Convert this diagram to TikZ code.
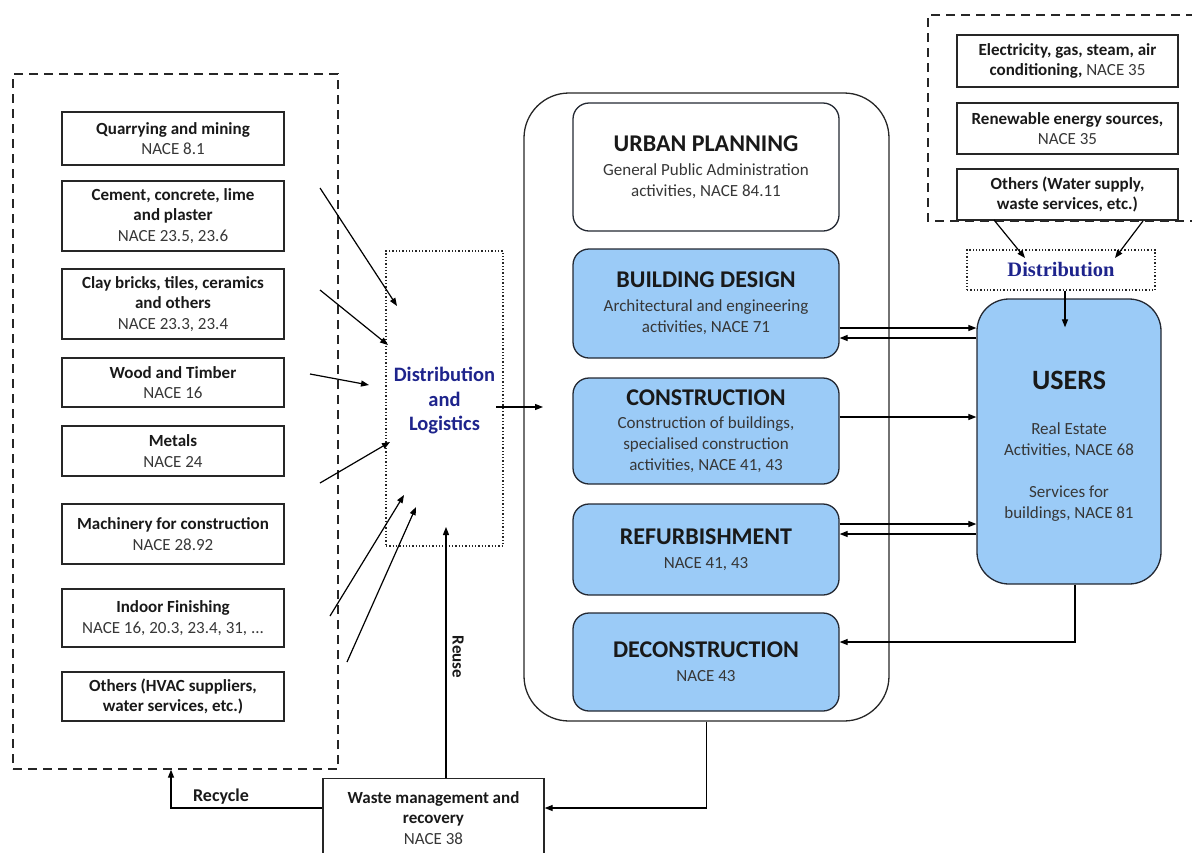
\documentclass[tikz,border=0pt]{standalone}
\usepackage{fontspec}
\setmainfont{Carlito}
\newfontfamily\timesf{Liberation Serif}
\usetikzlibrary{arrows.meta,calc}
\definecolor{boxblue}{RGB}{155,203,247}
\definecolor{navy}{RGB}{30,36,140}
\definecolor{txtgray}{RGB}{55,55,55}
\definecolor{edge}{RGB}{35,40,50}
\tikzset{
  every node/.style={inner sep=0pt},
  arr/.style={line width=1.2pt,-{Triangle[length=8pt,width=6pt]}},
  lbox/.style={draw=black!85,line width=1.3pt,minimum width=222pt,align=center,
    font=\fontsize{17}{20.5}\selectfont,text=txtgray},
  rbox/.style={draw=black!85,line width=1.3pt,minimum width=221pt,align=center,
    font=\fontsize{17}{20.5}\selectfont,text=txtgray},
  ibox/.style={draw=edge,line width=1.3pt,rounded corners=16pt,minimum width=266pt,align=center,
    font=\fontsize{17}{20.8}\selectfont, text=txtgray},
  bluebox/.style={ibox,fill=boxblue},
  dotbox/.style={draw=black!85,line width=1.3pt,dotted},
  dashbox/.style={draw=black!85,line width=1.3pt,dash pattern=on 9pt off 6pt}
}
\newcommand{\bt}[1]{{\bfseries\color{black!90}#1}}
\newcommand{\ttlf}[1]{{\fontsize{24}{26}\selectfont\bfseries\color{black!90}#1}}
\begin{document}
\begin{tikzpicture}[x=1pt,y=-1pt]
\useasboundingbox (0,0) rectangle (1192,852);

% left dashed group
\node (lgroup) [dashbox,minimum width=325pt,minimum height=695pt] at (175.5,421.5) {};
\node (q)   [lbox,minimum height=53pt] at (173,138.5) {\bt{Quarrying and mining}\\NACE 8.1};
\node (cem) [lbox,minimum height=70pt] at (173,216) {\bt{Cement, concrete, lime}\\\bt{and plaster}\\NACE 23.5, 23.6};
\node (clay)[lbox,minimum height=70pt] at (173,304) {\bt{Clay bricks, tiles, ceramics}\\\bt{and others}\\NACE 23.3, 23.4};
\node (wood)[lbox,minimum height=49pt] at (173,382.5) {\bt{Wood and Timber}\\NACE 16};
\node (met) [lbox,minimum height=50pt] at (173,451) {\bt{Metals}\\NACE 24};
\node (mach)[lbox,minimum height=60pt] at (173,534) {\bt{Machinery for construction}\\NACE 28.92};
\node (ind) [lbox,minimum height=58pt] at (173,618) {\bt{Indoor Finishing}\\NACE 16, 20.3, 23.4, 31, ...};
\node (oth) [lbox,minimum height=49pt] at (173,696.5) {\bt{Others (HVAC suppliers,}\\\bt{water services, etc.)}};

% distribution and logistics
\node (dl) [dotbox,minimum width=117pt,minimum height=295pt] at (444.5,398.5) {};
\node (dltext) [align=center,font=\fontsize{20.5}{24.5}\selectfont\bfseries,text=navy] at (444.5,401) {Distribution\\and\\Logistics};

% arrows into D&L
\coordinate (s1) at (320,188); \coordinate (t1) at (397,306);
\coordinate (s2) at (320,290); \coordinate (t2) at (388,345);
\coordinate (s3) at (310,374); \coordinate (t3) at (369,385);
\coordinate (s4) at (320,483); \coordinate (t4) at (390,442);
\coordinate (s5) at (330,616); \coordinate (t5) at (404,495);
\coordinate (s6) at (347,662); \coordinate (t6) at (416,507);
\foreach \i in {1,...,6} {\draw[arr] (s\i) -- (t\i);}

% center group
\node (big) [draw=black!85,line width=1.3pt,rounded corners=45pt,minimum width=365pt,minimum height=628pt] at (706.5,407) {};
\node (urb) [ibox,fill=white,minimum height=128pt] at (706,167) {\ttlf{URBAN PLANNING}\\[3pt]General Public Administration\\activities, NACE 84.11};
\node (bd)  [bluebox,minimum height=109pt] at (706,303.5) {\ttlf{BUILDING DESIGN}\\[3pt]Architectural and engineering\\activities, NACE 71};
\node (con) [bluebox,minimum height=106pt] at (706,431) {\ttlf{CONSTRUCTION}\\[3pt]Construction of buildings,\\specialised construction\\activities, NACE 41, 43};
\node (ref) [bluebox,minimum height=91pt] at (706,549.5) {\ttlf{REFURBISHMENT}\\[3pt]NACE 41, 43};
\node (dec) [bluebox,minimum height=98pt] at (706,662) {\ttlf{DECONSTRUCTION}\\[3pt]NACE 43};

\coordinate (dls) at (496,407); \coordinate (dlt) at (543,407);
\draw[arr] (dls) -- (dlt);

% top right group
\draw[dashbox] (1195,15) -- (928,15) -- (928,221) -- (1195,221);
\node (el) [rbox,minimum height=52pt] at (1067.5,61) {\bt{Electricity, gas, steam, air}\\\bt{conditioning,} NACE 35};
\node (ren)[rbox,minimum height=51pt] at (1067.5,128.5) {\bt{Renewable energy sources,}\\NACE 35};
\node (ot2)[rbox,minimum height=51pt] at (1067.5,194.5) {\bt{Others (Water supply,}\\\bt{waste services, etc.)}};
\node (dist)[dotbox,minimum width=188pt,minimum height=40pt] at (1061,270) {};
\node (disttext) [font=\timesf\fontsize{20.5}{24}\selectfont\bfseries,text=navy] at (1061,270) {Distribution};
\coordinate (u1) at (994,220); \coordinate (u1t) at (1025,258);
\coordinate (u2) at (1143,221); \coordinate (u2t) at (1115,258);
\draw[arr] (u1) -- (u1t);
\draw[arr] (u2) -- (u2t);

% users
\node (users) [draw=edge,line width=1.3pt,fill=boxblue,rounded corners=32pt,minimum width=184pt,minimum height=285pt] at (1069,441.5) {};
\node (userstext) [align=center,font=\fontsize{17}{20.8}\selectfont,text=txtgray] at (1069,446)
  {{\fontsize{28}{30}\selectfont\bfseries\color{black!90}USERS}\\[25pt]Real Estate\\Activities, NACE 68\\[21pt]Services for\\buildings, NACE 81};
\draw[arr] ($(dist.south)+(4,0)$) -- ($(users.north)+(-4,29)$);

% center <-> users
\draw[arr] ($(bd.east)+(0,24.5)$) coordinate (a1) -- (a1 -| users.west);
\draw[arr] (users.west |- 0,338) coordinate (a2) -- (a2 -| bd.east);
\draw[arr] ($(con.east)+(0,-14)$) coordinate (a3) -- (a3 -| users.west);
\draw[arr] ($(ref.east)+(0,-25.5)$) coordinate (a4) -- (a4 -| users.west);
\draw[arr] (users.west |- 0,534) coordinate (a5) -- (a5 -| ref.east);
\draw[arr] ($(users.south)+(6,0)$) |- ($(dec.east)+(0,-20)$);

% waste
\node (waste) [draw=black!85,line width=1.3pt,minimum width=221pt,minimum height=100pt,anchor=north] at (433.5,778) {};
\node (wtext) [align=center,font=\fontsize{17}{20.5}\selectfont,text=txtgray] at (433.5,818) {\bt{Waste management and}\\\bt{recovery}\\NACE 38};
\draw[arr] (big.south) |- ($(waste.north east)+(0,30)$);
\draw[arr] ($(waste.north west)+(0,30)$) -| ($(lgroup.south)+(-4.5,0)$);
\node (rec) [font=\fontsize{18}{20}\selectfont\bfseries,text=black!90] at (221,797) {Recycle};
\coordinate (rs) at (446,778); \coordinate (rt) at (446,527);
\draw[arr] (rs) -- (rt);
\node (reuse) [rotate=-90,font=\fontsize{17}{20}\selectfont\bfseries,text=black!90] at (458,657) {Reuse};
\end{tikzpicture}
\end{document}
